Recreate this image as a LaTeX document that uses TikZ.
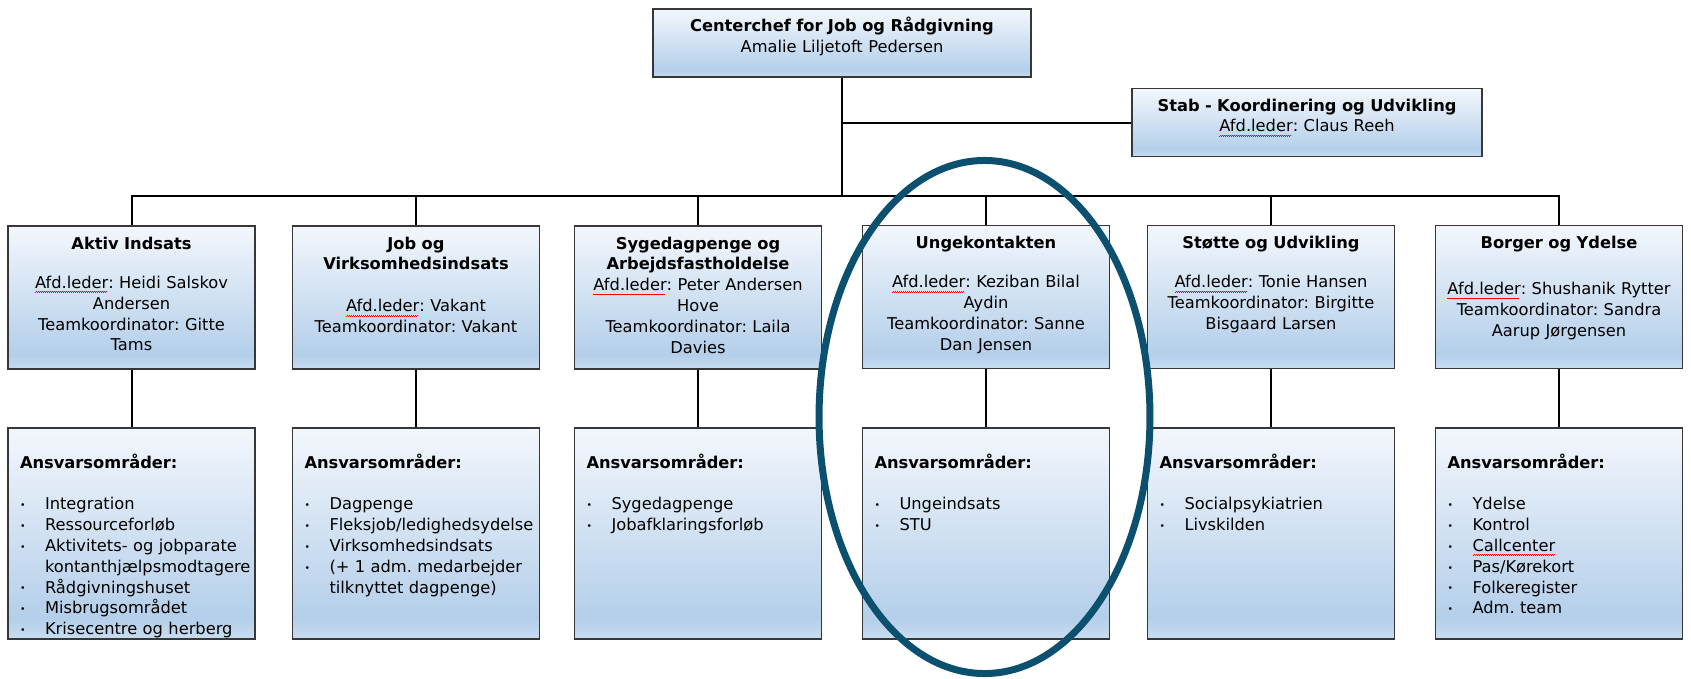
\documentclass[tikz,border=0pt]{standalone}
\usepackage{tikz}
\usepackage{fontspec}
\setmainfont{DejaVu Sans}
\definecolor{unittop}{RGB}{243,247,252}
\definecolor{unitdeep}{RGB}{180,207,234}
\definecolor{unitlow}{RGB}{199,220,240}
\definecolor{unitedge}{RGB}{55,55,55}
\definecolor{ringblue}{RGB}{11,80,110}
\pgfdeclareverticalshading{unitfill}{100bp}{color(0bp)=(unitlow); color(25bp)=(unitlow); color(30bp)=(unitdeep); color(75bp)=(unittop); color(100bp)=(unittop)}
\newsavebox\spellbox
\newcommand\spellerr[1]{\leavevmode\sbox\spellbox{#1}\rlap{\textcolor{red}{\hbox to\wd\spellbox{\leaders\hbox{\rule[-3.4pt]{0.75pt}{0.55pt}\rule[-2.8pt]{0.75pt}{0.55pt}}\hfil}}}\usebox\spellbox}
\newcommand\bul[1]{\makebox[18.75pt][l]{\raisebox{0.8pt}{\fontsize{7pt}{7pt}\selectfont\textbullet}}\mbox{#1}}

\begin{document}
\begin{tikzpicture}[x=0.75pt, y=-0.75pt,
    unitbox/.style={draw=unitedge, line width=0.9pt, shade, shading=unitfill, inner xsep=3pt, inner ysep=3pt, font=\fontsize{12.2pt}{15.6pt}\selectfont\frenchspacing},
    chief/.style={unitbox, align=center, text height=14pt, text depth=31pt},
    unit/.style={unitbox, align=center, text width=179.25pt, text height=14.25pt, text depth=87pt},
    areas/.style={unitbox, align=left, inner xsep=9pt, text width=167.25pt, text height=27pt, text depth=125.25pt},
    link/.style={line width=1.5pt},
    ring/.style={draw=ringblue, line width=5.25pt}]
    \useasboundingbox (0,0) rectangle (1691,678);
    \node (chief) at (842,43) [chief, text width=277.5pt] {\textbf{Centerchef for Job og Rådgivning}\\Amalie Liljetoft Pedersen};
    \node (stab) at (1307,122.5) [chief, text width=256.5pt] {\textbf{Stab - Koordinering og Udvikling}\\\spellerr{Afd.leder}: Claus Reeh};
    \node (aktiv) at (131.5,297.5) [unit] {\textbf{Aktiv Indsats}\\[14pt]\spellerr{Afd.leder}: Heidi Salskov\\Andersen\\Teamkoordinator: Gitte\\Tams};
    \node (jobvirk) at (416,297.5) [unit] {\textbf{Job og}\\\textbf{Virksomhedsindsats}\\[16pt]\spellerr{Afd.leder}: Vakant\\Teamkoordinator: Vakant};
    \node (syge) at (698,297.5) [unit] {\textbf{Sygedagpenge og}\\\textbf{Arbejdsfastholdelse}\\\spellerr{Afd.leder}: Peter Andersen\\Hove\\Teamkoordinator: Laila\\Davies};
    \node (unge) at (986,297) [unit] {\textbf{Ungekontakten}\\[14pt]\spellerr{Afd.leder}: Keziban Bilal\\Aydin\\Teamkoordinator: Sanne\\Dan Jensen};
    \node (stotte) at (1271,297) [unit] {\textbf{Støtte og Udvikling}\\[14pt]\spellerr{Afd.leder}: Tonie Hansen\\Teamkoordinator: Birgitte\\Bisgaard Larsen};
    \node (borger) at (1559,297) [unit] {\textbf{Borger og Ydelse}\\[19pt]\spellerr{Afd.leder}: Shushanik Rytter\\Teamkoordinator: Sandra\\Aarup Jørgensen};
    \node (aktiv-ans) at (131.5,533.5) [areas] {\textbf{Ansvarsområder:}\\[15.75pt]\bul{Integration}\\\bul{Ressourceforløb}\\\bul{Aktivitets- og jobparate}\\\hspace*{18.75pt}\mbox{kontanthjælpsmodtagere}\\\bul{Rådgivningshuset}\\\bul{Misbrugsområdet}\\\bul{Krisecentre og herberg}};
    \node (jobvirk-ans) at (416,533.5) [areas] {\textbf{Ansvarsområder:}\\[15.75pt]\bul{Dagpenge}\\\bul{Fleksjob/ledighedsydelse}\\\bul{Virksomhedsindsats}\\\bul{(+ 1 adm. medarbejder}\\\hspace*{18.75pt}tilknyttet dagpenge)};
    \node (syge-ans) at (698,533.5) [areas] {\textbf{Ansvarsområder:}\\[15.75pt]\bul{Sygedagpenge}\\\bul{Jobafklaringsforløb}};
    \node (unge-ans) at (986,533.5) [areas] {\textbf{Ansvarsområder:}\\[15.75pt]\bul{Ungeindsats}\\\bul{STU}};
    \node (stotte-ans) at (1271,533.5) [areas] {\textbf{Ansvarsområder:}\\[15.75pt]\bul{Socialpsykiatrien}\\\bul{Livskilden}};
    \node (borger-ans) at (1559,533.5) [areas] {\textbf{Ansvarsområder:}\\[15.75pt]\bul{Ydelse}\\\bul{Kontrol}\\\bul{\spellerr{Callcenter}}\\\bul{Pas/Kørekort}\\\bul{Folkeregister}\\\bul{Adm. team}};
    \coordinate (bus) at (842,196);
    \draw[link] (chief.south) -- (bus);
    \draw[link] (stab.west) -- (stab.west -| chief.south);
    \foreach \u in {aktiv,jobvirk,syge,unge,stotte,borger} {
        \draw[link] (\u.north) |- (bus);
        \draw[link] (\u.south) -- (\u-ans.north);
    }
    \draw[ring] (984.5,417) ellipse [x radius=124.1pt, y radius=192.4pt];
\end{tikzpicture}
\end{document}
